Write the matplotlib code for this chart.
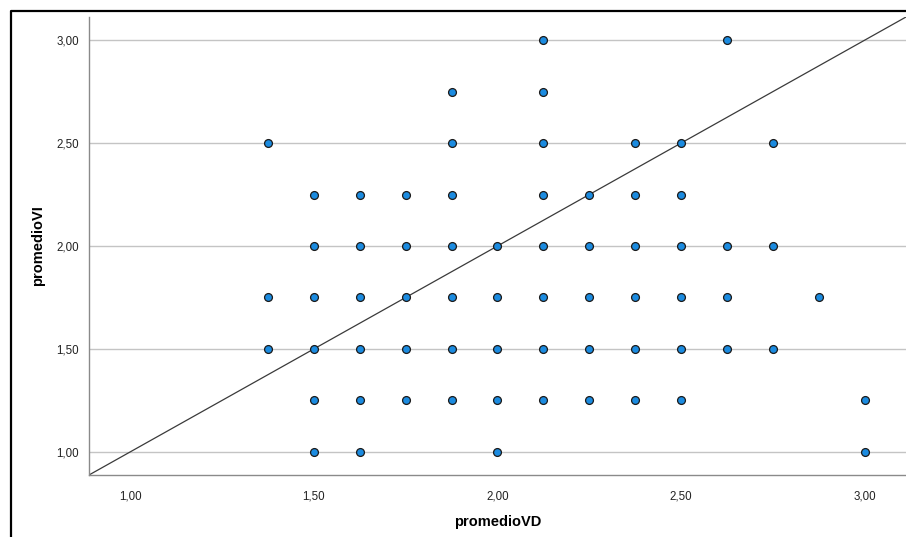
import matplotlib
matplotlib.use("Agg")
import matplotlib.pyplot as plt
from matplotlib.lines import Line2D
from matplotlib.ticker import FuncFormatter

plt.rcParams['font.family'] = ['Liberation Sans', 'DejaVu Sans']

# Datos: promedioVD (x) por fila de promedioVI (y)
filas_vi = [3.00, 2.75, 2.50, 2.25, 2.00, 1.75, 1.50, 1.25, 1.00]
vd_por_fila = [
    [2.125, 2.625],
    [1.875, 2.125],
    [1.375, 1.875, 2.125, 2.375, 2.5, 2.75],
    [1.5, 1.625, 1.75, 1.875, 2.125, 2.25, 2.375, 2.5],
    [1.5, 1.625, 1.75, 1.875, 2.0, 2.125, 2.25, 2.375, 2.5, 2.625, 2.75],
    [1.375, 1.5, 1.625, 1.75, 1.875, 2.0, 2.125, 2.25, 2.375, 2.5, 2.625, 2.875],
    [1.375, 1.5, 1.625, 1.75, 1.875, 2.0, 2.125, 2.25, 2.375, 2.5, 2.625, 2.75],
    [1.5, 1.625, 1.75, 1.875, 2.0, 2.125, 2.25, 2.375, 2.5, 3.0],
    [1.5, 1.625, 2.0, 3.0],
]
ticks = [1.0, 1.5, 2.0, 2.5, 3.0]

promedioVD = []
promedioVI = []
for vi, fila in zip(filas_vi, vd_por_fila):
    for vd in fila:
        promedioVD.append(vd)
        promedioVI.append(vi)

fig = plt.figure(figsize=(9.06, 5.37), dpi=100)
ax = fig.add_axes([89 / 906, 62 / 537, 1 - 89 / 906, (475 - 17) / 537])

lim = (0.888, 3.112)
ax.set_xlim(lim)
ax.set_ylim(lim)

ax.grid(axis='y', color='#c4c4c4', linewidth=1.0)
ax.set_axisbelow(True)

ax.axline((1, 1), slope=1, color='#3a3a3a', linewidth=0.9, zorder=2)
ax.scatter(promedioVD, promedioVI, s=32, color='#1b8be0', edgecolors='#1a1a1a',
           linewidths=0.9, zorder=3, clip_on=False)

ax.set_xticks(ticks)
ax.set_yticks(ticks)
fmt = FuncFormatter(lambda v, p: f"{v:.2f}".replace('.', ','))
ax.xaxis.set_major_formatter(fmt)
ax.yaxis.set_major_formatter(fmt)
ax.tick_params(axis='both', length=0, labelsize=8.3, colors='#222222')
ax.tick_params(axis='x', pad=11)
ax.tick_params(axis='y', pad=7)

for s in ['top', 'right']:
    ax.spines[s].set_visible(False)
for s in ['left', 'bottom']:
    ax.spines[s].set_color('#8a8a8a')
    ax.spines[s].set_linewidth(1.0)

ax.set_xlabel('promedioVD', fontsize=10.5, fontweight='bold', labelpad=9)
ax.set_ylabel('promedioVI', fontsize=10.5, fontweight='bold', labelpad=8)

# Marco negro exterior (izquierda y arriba)
fx = 11 / 906
fy = 1 - 10.5 / 537
fig.add_artist(Line2D([fx, fx, 1.0], [0.0, fy, fy], transform=fig.transFigure,
                      color='black', linewidth=1.6))

plt.savefig('out.png', dpi=100)
